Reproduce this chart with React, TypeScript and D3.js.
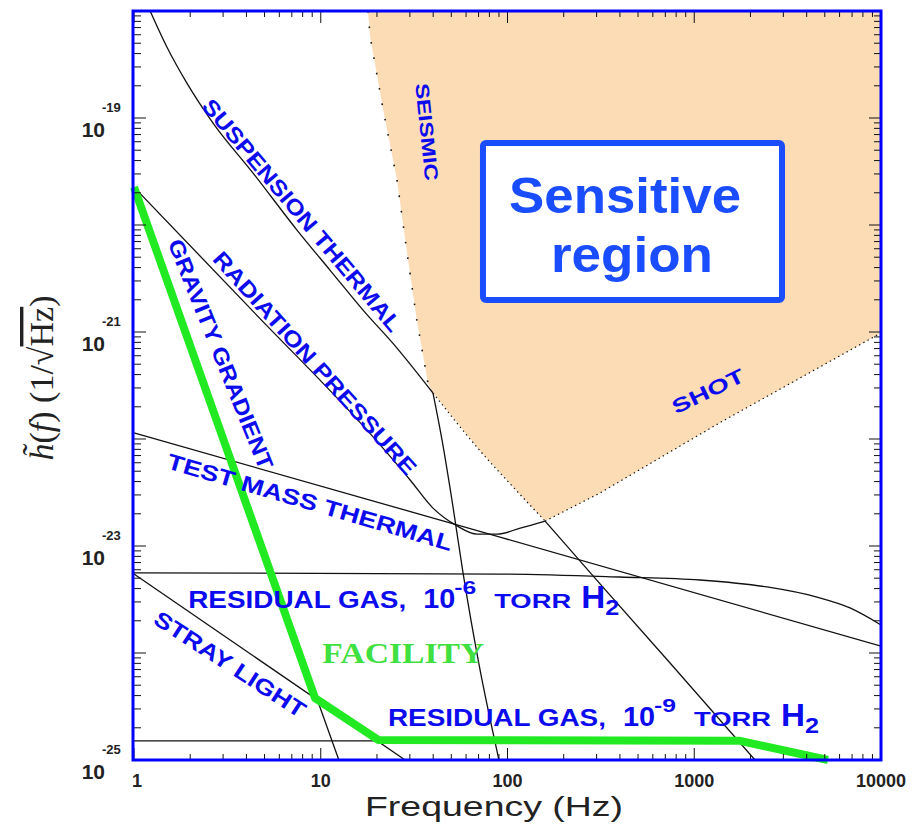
import * as d3 from "d3";

type Pt = [number, number];

// noise curves: [frequency (Hz), h(f) (1/sqrt Hz)]
const suspensionThermal: Pt[] = [
  [1.22, 1e-18], [1.5, 4.61e-19], [1.92, 2.12e-19], [2.65, 8.97e-20], [4.34, 3.06e-20],
  [7.46, 8.97e-21], [11.2, 3.79e-21], [16.8, 1.61e-21], [25.6, 7.08e-22], [39.9, 2.69e-22],
];
const seismicWall: Pt[] = [
  [39.9, 2.69e-22], [44.6, 9.8e-23], [51.1, 2.31e-23], [57.8, 5.6e-24], [70.3, 7.9e-25], [90, 1e-25],
];
const radiationPressure: Pt[] = [
  [1, 2.26e-20], [4.18, 1.67e-21], [20.8, 8.8e-23], [30.1, 4.14e-23], [39.9, 2.26e-23],
  [53.7, 1.54e-23], [68.7, 1.29e-23], [87.9, 1.29e-23], [117, 1.47e-23], [159, 1.71e-23],
];
const highFreqCutoff: Pt[] = [[159, 1.71e-23], [313, 4.42e-24], [742, 8.07e-25], [2115, 1e-25]];
const testMassThermal: Pt[] = [[1, 1.14e-22], [91.2, 1.21e-23], [10000, 1.16e-24]];
const residualGas6: Pt[] = [
  [1, 5.6e-24], [91.2, 5.47e-24], [400, 5.13e-24], [1073, 4.81e-24], [2454, 4.14e-24],
  [4540, 3.33e-24], [6820, 2.64e-24], [10000, 1.83e-24],
];
const residualGas9: Pt[] = [[1, 1.51e-25], [1758, 1.51e-25], [3258, 1.24e-25], [5200, 1e-25]];
const gravityGradient: Pt[] = [[1, 2.26e-20], [12.5, 1e-25]];
const strayLight: Pt[] = [[1, 5.47e-24], [28.3, 1e-25]];
const facility: Pt[] = [[1, 2.26e-20], [9.32, 3.79e-25], [20.3, 1.54e-25], [1758, 1.51e-25], [5200, 1e-25]];

// edge of the shaded "sensitive" region
const seismicEdge: Pt[] = [
  [17.9, 1e-18], [18.4, 5.7e-19], [21.6, 1.19e-19], [25.6, 2.64e-20], [29.0, 5.47e-21],
  [32.7, 1.29e-21], [37.5, 3.33e-22], [39.9, 2.69e-22],
];
const totalEdge: Pt[] = [[39.9, 2.69e-22], [73.0, 7.4e-23], [111, 3.33e-23], [159, 1.71e-23]];
const shotEdge: Pt[] = [[159, 1.71e-23], [313, 3.13e-23], [1390, 1.44e-22], [10000, 9.8e-22]];

const xTickValues = [1, 10, 100, 1000, 10000];
const xTickLabels = ["1", "10", "100", "1000", "10000"];
const yTickExponents = [-25, -23, -21, -19];

const BLUE = "#0b0bee";
const BOXBLUE = "#1a4dff";
const GREEN = "#22ea22";
const SANS = "'Liberation Sans', Arial, Helvetica, sans-serif";
const SERIF = "'Liberation Serif', 'Times New Roman', serif";

export default function App() {
  const width = 913;
  const height = 830;
  const left = 134, right = 881, top = 11, bottom = 760;

  const x = d3.scaleLog().domain([1, 10000]).range([left, right]);
  const y = d3.scaleLog().domain([1e-25, 1e-18]).range([bottom, top]);

  const straight = d3.line<Pt>().x(d => x(d[0])).y(d => y(d[1]));
  const smooth = d3.line<Pt>().x(d => x(d[0])).y(d => y(d[1])).curve(d3.curveMonotoneX);

  const region = [...seismicEdge, ...totalEdge.slice(1), ...shotEdge.slice(1), [10000, 1e-18] as Pt];

  const isMajor = (v: number) => Math.abs(Math.log10(v) - Math.round(Math.log10(v))) < 1e-6;
  const xt = x.ticks();
  const yt = y.ticks();

  // rotated blue annotations, anchored in data space
  const label = (text: string, f: number, h: number, angle: number, len: number, size = 22) => (
    <text
      key={text}
      transform={`translate(${x(f)},${y(h)}) rotate(${angle})`}
      textAnchor="middle"
      dy="0.36em"
      fontFamily={SANS}
      fontWeight="bold"
      fontSize={size}
      fill={BLUE}
      textLength={len}
      lengthAdjust="spacingAndGlyphs"
    >
      {text}
    </text>
  );

  const gasLabel = (f: number, h: number, exp: string) => {
    const x0 = x(f);
    const b = y(h);
    return (
      <g fill={BLUE} fontFamily={SANS} fontWeight="bold" key={exp}>
        <text x={x0} y={b} fontSize={24} textLength={218} lengthAdjust="spacingAndGlyphs">RESIDUAL GAS,</text>
        <text x={x0 + 235} y={b} fontSize={28} textLength={32} lengthAdjust="spacingAndGlyphs">10</text>
        <text x={x0 + 266} y={b - 14} fontSize={18} textLength={22} lengthAdjust="spacingAndGlyphs">{exp}</text>
        <text x={x0 + 306} y={b} fontSize={21} textLength={77} lengthAdjust="spacingAndGlyphs">TORR</text>
        <text x={x0 + 393} y={b} fontSize={31} textLength={24} lengthAdjust="spacingAndGlyphs">H</text>
        <text x={x0 + 417} y={b + 7} fontSize={22} textLength={14} lengthAdjust="spacingAndGlyphs">2</text>
      </g>
    );
  };

  const blackCurves: { pts: Pt[]; gen: d3.Line<Pt> }[] = [
    { pts: suspensionThermal, gen: smooth },
    { pts: seismicWall, gen: smooth },
    { pts: radiationPressure, gen: smooth },
    { pts: highFreqCutoff, gen: straight },
    { pts: testMassThermal, gen: straight },
    { pts: residualGas6, gen: smooth },
    { pts: residualGas9, gen: smooth },
    { pts: gravityGradient, gen: straight },
    { pts: strayLight, gen: straight },
  ];

  return (
    <svg width={width} height={height} style={{ position: "absolute", left: 0, top: 0, background: "#fff" }}>
      <defs>
        <clipPath id="plot">
          <rect x={left - 1} y={top} width={right - left + 1} height={bottom - top} />
        </clipPath>
      </defs>

      {/* sensitive region */}
      <g clipPath="url(#plot)">
        <path d={straight(region) + "Z"} fill="#fcdcb5" stroke="none" />
        <path d={straight(seismicEdge)!} fill="none" stroke="#111" strokeWidth={1.6} strokeDasharray="1.6 14" />
        <path d={smooth(totalEdge)!} fill="none" stroke="#111" strokeWidth={1.2} strokeDasharray="1.4 3.4" />
        <path d={straight(shotEdge)!} fill="none" stroke="#111" strokeWidth={1.2} strokeDasharray="1.4 3.4" />

        {blackCurves.map((c, i) => (
          <path key={i} d={c.gen(c.pts)!} fill="none" stroke="#111" strokeWidth={1.3} />
        ))}
      </g>

      {/* facility limit */}
      <path d={straight(facility)!} fill="none" stroke={GREEN} strokeWidth={8} strokeLinejoin="round" />

      {/* curve labels */}
      {label("SUSPENSION THERMAL", 7.94, 1.24e-20, 50, 296)}
      {label("RADIATION PRESSURE", 9.32, 5.13e-22, 48, 292)}
      {label("GRAVITY GRADIENT", 2.92, 6.22e-22, 68, 246)}
      {label("TEST MASS THERMAL", 8.76, 2.58e-23, 16.3, 296)}
      {label("STRAY LIGHT", 3.27, 7.88e-25, 33, 176)}
      {label("SEISMIC", 37.1, 7.4e-20, 84, 98, 19)}
      {label("SHOT", 1185, 2.81e-22, -26, 78, 20)}
      {gasLabel(1.95, 2.64e-24, "-6")}
      {gasLabel(22.9, 2.08e-25, "-9")}
      <text x={x(10.2)} y={y(8.07e-25)} fontFamily={SERIF} fontWeight="bold" fontSize={30} fill="#3fe03f"
        textLength={162} lengthAdjust="spacingAndGlyphs">FACILITY</text>

      {/* sensitive region box */}
      <rect x={x(73.9)} y={y(5.83e-20)} width={x(2951) - x(73.9)} height={y(1.99e-21) - y(5.83e-20)}
        fill="#fff" stroke={BOXBLUE} strokeWidth={6} rx={3} />
      <text x={x(426)} y={y(1.29e-20)} textAnchor="middle" fontFamily={SANS} fontWeight="bold" fontSize={50}
        fill={BOXBLUE} textLength={232} lengthAdjust="spacingAndGlyphs">Sensitive</text>
      <text x={x(464)} y={y(3.64e-21)} textAnchor="middle" fontFamily={SANS} fontWeight="bold" fontSize={50}
        fill={BOXBLUE} textLength={162} lengthAdjust="spacingAndGlyphs">region</text>

      {/* ticks */}
      <g stroke="#111" strokeWidth={1}>
        {xt.map((t, i) => {
          const l = isMajor(t) ? 12 : 6;
          return (
            <g key={"x" + i}>
              <line x1={x(t)} x2={x(t)} y1={bottom} y2={bottom - l} />
              <line x1={x(t)} x2={x(t)} y1={top} y2={top + l} />
            </g>
          );
        })}
        {yt.map((t, i) => {
          const l = isMajor(t) ? 12 : 7;
          return (
            <g key={"y" + i}>
              <line x1={left} x2={left + l} y1={y(t)} y2={y(t)} />
              <line x1={right} x2={right - l} y1={y(t)} y2={y(t)} />
            </g>
          );
        })}
      </g>

      {/* frame */}
      <rect x={left - 1} y={top} width={right - left + 1} height={bottom - top} fill="none" stroke="#0000ff" strokeWidth={3} />

      {/* tick labels */}
      <g fontFamily={SANS} fontWeight="bold" fill="#222">
        {xTickValues.map((v, i) => (
          <text key={v} x={x(v) + (i === 0 ? 3 : 0)} y={bottom + 27} textAnchor="middle" fontSize={18}>{xTickLabels[i]}</text>
        ))}
        {yTickExponents.map(e => (
          <g key={e}>
            <text x={105} y={y(Math.pow(10, e)) + 19} textAnchor="end" fontSize={21}>10</text>
            <text x={102} y={y(Math.pow(10, e)) - 6} fontSize={13}>{String(e)}</text>
          </g>
        ))}
      </g>

      {/* axis titles */}
      <text x={494} y={816} textAnchor="middle" fontFamily={SANS} fontSize={28} fill="#222"
        textLength={258} lengthAdjust="spacingAndGlyphs">Frequency (Hz)</text>
      <text transform="translate(53,378) rotate(-90)" textAnchor="middle" fontFamily={SERIF} fontSize={34} fill="#222">
        <tspan fontStyle="italic">{"h\u0303"}</tspan>
        <tspan>(</tspan>
        <tspan fontStyle="italic">f</tspan>
        <tspan>{") (1/\u221A"}</tspan>
        <tspan style={{ textDecoration: "overline" }}>Hz</tspan>
        <tspan>)</tspan>
      </text>
    </svg>
  );
}
